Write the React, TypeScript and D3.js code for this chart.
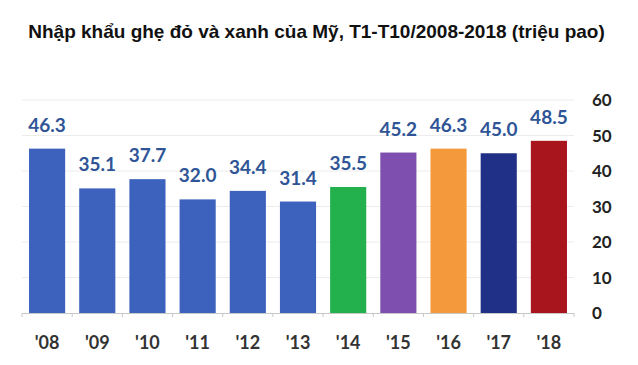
import React from "react";
import { scaleBand, scaleLinear } from "d3";

const width = 638;
const height = 365;

// data
const years = ["'08", "'09", "'10", "'11", "'12", "'13", "'14", "'15", "'16", "'17", "'18"];
const imports = [46.3, 35.1, 37.7, 32.0, 34.4, 31.4, 35.5, 45.2, 46.3, 45.0, 48.5];
const barColors = ["#3c62bd", "#3c62bd", "#3c62bd", "#3c62bd", "#3c62bd", "#3c62bd", "#22b14c", "#7e4fae", "#f59a3c", "#203087", "#a8151d"];
const yTicks = [0, 10, 20, 30, 40, 50, 60];

const title = "Nhập khẩu ghẹ đỏ và xanh của Mỹ, T1-T10/2008-2018 (triệu pao)";

const App = () => {
  const xScale = scaleBand<string>()
    .domain(years)
    .range([22, 574])
    .paddingInner(0.28)
    .paddingOuter(0.14);

  const yScale = scaleLinear().domain([0, 60]).range([313, 100]);

  const labelFont = "Lato, 'Open Sans', sans-serif";

  return (
    <svg width={width} height={height} style={{ position: "absolute", left: 0, top: 0 }}>
      <rect width={width} height={height} fill="white" />
      <text
        x={316.5}
        y={38}
        textAnchor="middle"
        fontFamily="'Liberation Sans', Arial, sans-serif"
        fontWeight="bold"
        fontSize={19}
        fill="#111"
      >
        {title}
      </text>

      {/* faint gridlines */}
      {yTicks.slice(1).map((t) => (
        <line key={t} x1={22} x2={574} y1={yScale(t)} y2={yScale(t)} stroke="#ececec" strokeWidth={1} />
      ))}

      {/* bars */}
      {imports.map((v, i) => (
        <rect
          key={years[i]}
          x={xScale(years[i])}
          y={yScale(v)}
          width={xScale.bandwidth()}
          height={yScale(0) - yScale(v)}
          fill={barColors[i]}
        />
      ))}

      {/* value labels */}
      {imports.map((v, i) => (
        <text
          key={"v" + years[i]}
          x={(xScale(years[i]) ?? 0) + xScale.bandwidth() / 2}
          y={yScale(v) - 17}
          textAnchor="middle"
          fontFamily={labelFont}
          fontWeight="bold"
          fontSize={19}
          fill="#2f5597"
        >
          {v.toFixed(1)}
        </text>
      ))}

      {/* x axis */}
      <line x1={22} x2={574} y1={313.5} y2={313.5} stroke="#c8c8c8" />
      {years.map((y) => (
        <line
          key={"t" + y}
          x1={(xScale(y) ?? 0) - xScale.step() * 0.14}
          x2={(xScale(y) ?? 0) - xScale.step() * 0.14}
          y1={313}
          y2={317}
          stroke="#c8c8c8"
        />
      ))}
      <line x1={574} x2={574} y1={313} y2={317} stroke="#c8c8c8" />
      {years.map((y) => (
        <text
          key={"x" + y}
          x={(xScale(y) ?? 0) + xScale.bandwidth() / 2}
          y={349}
          textAnchor="middle"
          fontFamily={labelFont}
          fontWeight="bold"
          fontSize={18}
          fill="#333"
        >
          {y}
        </text>
      ))}

      {/* right y axis labels */}
      {yTicks.map((t) => (
        <text
          key={"y" + t}
          x={592}
          y={yScale(t) + 6}
          textAnchor="start"
          fontFamily={labelFont}
          fontWeight="bold"
          fontSize={17}
          fill="#222"
        >
          {t}
        </text>
      ))}
    </svg>
  );
};

export default App;
